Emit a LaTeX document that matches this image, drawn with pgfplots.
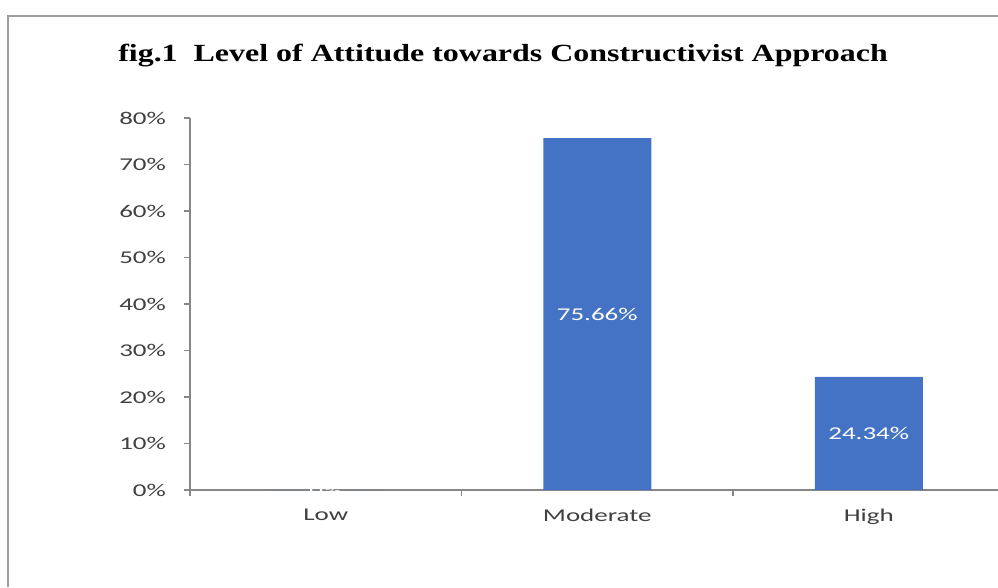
\documentclass[border=0pt]{standalone}
\usepackage{pgfplots}
\pgfplotsset{compat=1.18}
\usepackage{fontspec}
\setmainfont{Liberation Serif}
\newfontfamily\lblfont[FakeStretch=1.5]{Carlito}
\newfontfamily\titlefont[FakeStretch=1.295]{Liberation Serif}
\definecolor{barblue}{HTML}{4472C4}
\definecolor{axgray}{HTML}{868686}
\definecolor{txtgray}{HTML}{404040}
\begin{document}
\begin{tikzpicture}[x=0.75pt,y=0.75pt]
\useasboundingbox (0,0) rectangle (998,587);
\draw[color=axgray!80,line width=1.1pt] (8,0) -- (8,571) -- (998,571);
\node[anchor=base west,inner sep=0pt] at (118,526) {\titlefont\fontsize{18.5}{20}\selectfont\bfseries fig.1\ \ Level of Attitude towards Constructivist Approach};
\begin{axis}[
  at={(142.5pt,72.75pt)}, anchor=south west,
  width=606pt, height=279pt, scale only axis,
  xmin=-0.5, xmax=2.476, ymin=0, ymax=80,
  axis x line=bottom, axis y line=left,
  axis line style={draw=axgray,line width=0.8pt,-},
  ybar, bar width=81pt,
  /pgf/number format/assume math mode=true,
  xtick={-0.5,0.5,1.5}, xticklabels={},
  extra x ticks={0,1,2}, extra x tick labels={Low,Moderate,High},
  extra x tick style={major tick length=0pt},
  ytick={0,10,...,80},
  yticklabel={\pgfmathprintnumber{\tick}\%},
  tick align=outside, major tick length=4.5pt,
  tick style={draw=axgray,line width=0.8pt},
  ticklabel style={font=\lblfont\fontsize{13.5}{15}\selectfont, text=txtgray},
  xticklabel style={yshift=-11pt},
  yticklabel style={xshift=-10pt},
  clip=false,
]
\addplot[fill=barblue, draw=none,
  point meta=y,
  visualization depends on={y/2 \as \halfy},
  nodes near coords={\pgfmathprintnumber[fixed,precision=2]{\pgfplotspointmeta}\%},
  every node near coord/.append style={font=\lblfont\fontsize{13.5}{15}\selectfont, text=white, anchor=center, shift={(axis direction cs:0,-\halfy)}}]
  coordinates {(0,0) (1,75.66) (2,24.34)};
\end{axis}
\end{tikzpicture}
\end{document}
